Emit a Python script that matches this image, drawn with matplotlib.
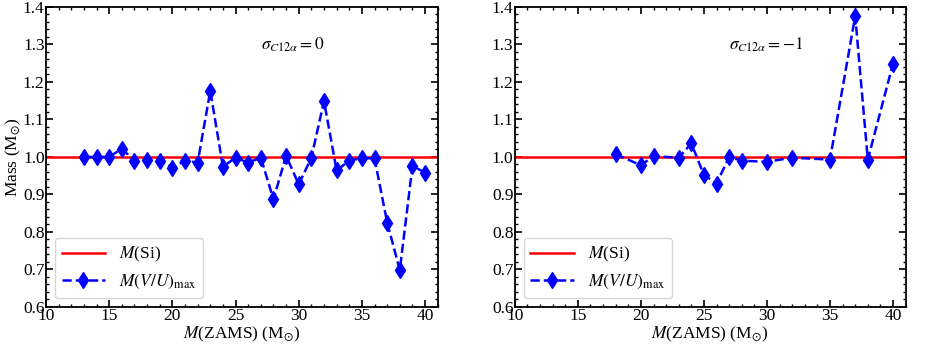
import numpy as np
import matplotlib.pyplot as plt
from matplotlib.ticker import MultipleLocator

plt.rcParams['font.family'] = ['Liberation Serif', 'DejaVu Serif']
plt.rcParams['mathtext.fontset'] = 'stix'
plt.rcParams['font.size'] = 12.5

# sigma_C12a = 0
m_zams_a = [13, 14, 15, 16, 17, 18, 19, 20, 21, 22, 23, 24, 25, 26, 27, 28,
            29, 30, 31, 32, 33, 34, 35, 36, 37, 38, 39, 40]
m_vu_a = [1.0, 1.0, 1.0, 1.022, 0.99, 0.992, 0.99, 0.971, 0.99, 0.985, 1.176,
          0.974, 0.998, 0.985, 0.998, 0.887, 1.003, 0.927, 0.998, 1.149, 0.964,
          0.99, 0.997, 0.996, 0.825, 0.698, 0.976, 0.958]

# sigma_C12a = -1
m_zams_b = [18, 20, 21, 23, 24, 25, 26, 27, 28, 30, 32, 35, 37, 38, 40]
m_vu_b = [1.007, 0.978, 1.002, 0.998, 1.036, 0.952, 0.929, 1.0, 0.99, 0.987,
          0.998, 0.993, 1.376, 0.993, 1.249]

m_si = 1.0
labels = [r'$\sigma_{C12\alpha} = 0$', r'$\sigma_{C12\alpha} = -1$']

fig = plt.figure(figsize=(9.26, 3.48), dpi=100)
ax1 = fig.add_axes([0.0497, 0.118, 0.423, 0.862])
ax2 = fig.add_axes([0.556, 0.118, 0.422, 0.862])

for ax, xs, ys, lab in [(ax1, m_zams_a, m_vu_a, labels[0]),
                        (ax2, m_zams_b, m_vu_b, labels[1])]:
    ax.axhline(m_si, color='red', lw=1.8, label=r'$M$(Si)')
    ax.plot(xs, ys, 'b--d', lw=1.8, ms=8, label=r'$M(V/U)_{\rm max}$')
    ax.set_xlim(10, 41)
    ax.set_ylim(0.6, 1.4)
    ax.xaxis.set_major_locator(MultipleLocator(5))
    ax.xaxis.set_minor_locator(MultipleLocator(1))
    ax.yaxis.set_major_locator(MultipleLocator(0.1))
    ax.yaxis.set_minor_locator(MultipleLocator(0.02))
    ax.tick_params(which='both', direction='in', top=True, right=True, pad=1)
    ax.tick_params(which='major', length=5, width=1.2)
    ax.tick_params(which='minor', length=2.5, width=1)
    for s in ax.spines.values():
        s.set_linewidth(1.3)
    ax.set_xlabel(r'$M$(ZAMS) (M$_{\odot}$)', labelpad=0)
    ax.text(27, 1.3, lab, va='center', ha='left')
    ax.legend(loc='lower left', fontsize=12.5, handlelength=2.5)

ax1.set_ylabel(r'Mass (M$_{\odot}$)', labelpad=0)

fig.savefig('out.png', dpi=100)
